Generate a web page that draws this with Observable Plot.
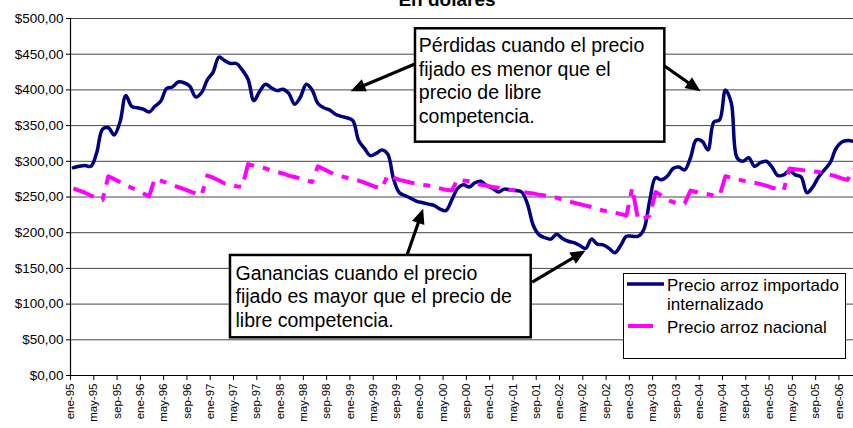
<!DOCTYPE html>
<html><head><meta charset="utf-8">
<script src="https://cdn.jsdelivr.net/npm/d3@7"></script>
<script src="https://cdn.jsdelivr.net/npm/@observablehq/plot@0.6"></script>
<style>
body{margin:0;background:#fff;font-family:Arial,"Liberation Sans",sans-serif;overflow:hidden}
#wrap{position:relative;width:853px;height:428px;overflow:hidden}
#chart{position:absolute;left:0;top:0}
#title{position:absolute;top:-10px;left:447px;transform:translateX(-50%);font-weight:bold;font-size:19px;line-height:19px;white-space:nowrap}
#legend{position:absolute;left:623px;top:273px;width:221px;height:84px;border:1px solid #000;background:#fff;font-size:17px;line-height:19px}
#legend .t{position:absolute;white-space:nowrap}
#legend svg{position:absolute}
</style></head>
<body>
<div id="wrap">
<div id="chart"></div>
<div id="title">En dólares</div>
<div id="legend">
  <svg style="left:2px;top:6px" width="40" height="8"><line x1="1" y1="4" x2="38" y2="4" stroke="#000080" stroke-width="3.5"/></svg>
  <div class="t" style="left:43px;top:2px">Precio arroz importado<br>internalizado</div>
  <svg style="left:3px;top:48px" width="30" height="8"><line x1="1" y1="4" x2="26" y2="4" stroke="#ff00ff" stroke-width="4"/></svg>
  <div class="t" style="left:43px;top:44px">Precio arroz nacional</div>
</div>
</div>
<script>
// Precio arroz importado internalizado (monthly, ene-95 .. mar-06)
const importado = [291,293,294,293,312,345,347,337,355,392,
 377,375,373,369,377,384,402,404,411,410,
 405,390,396,414,425,446,441,437,437,428,
 415,385,398,408,403,399,401,395,380,390,
 408,400,381,375,372,366,363,361,357,329,
 318,308,311,316,310,275,256,252,248,244,
 242,240,238,233,231,246,262,267,264,270,
 272,266,262,257,261,260,259,257,240,210,
 197,193,191,198,192,188,186,182,178,191,
 184,183,178,172,182,195,195,195,205,245,
 277,274,279,290,292,288,305,330,328,316,
 355,358,400,382,305,300,305,293,298,300,
 292,280,281,287,281,278,256,264,278,288,
 298,318,327,329,328];
// Precio arroz nacional
const nacional = [262,259,256,252,249,246,279,275,271,267,
 263,259,255,251,276,273,270,267,264,261,
 258,255,252,280,277,273,269,267,265,264,
 296,294,292,290,287,285,283,280,278,276,
 273,271,293,289,285,281,279,277,275,273,
 270,267,264,262,281,277,274,272,270,269,
 267,266,264,262,260,259,275,273,272,270,
 267,266,264,263,262,260,259,257,256,255,
 253,252,250,249,246,244,242,240,238,236,
 233,231,230,228,226,224,263,218,220,224,
 257,252,246,243,240,241,259,257,255,254,
 252,252,279,277,275,273,271,270,268,266,
 263,261,259,290,289,288,287,286,285,283,
 281,279,276,274,290];
const tickLabels = ["ene-95","may-95","sep-95","ene-96","may-96","sep-96","ene-97","may-97","sep-97",
 "ene-98","may-98","sep-98","ene-99","may-99","sep-99","ene-00","may-00","sep-00","ene-01","may-01","sep-01",
 "ene-02","may-02","sep-02","ene-03","may-03","sep-03","ene-04","may-04","sep-04","ene-05","may-05","sep-05","ene-06"];
const yTicks = [0,50,100,150,200,250,300,350,400,450,500];

// annotations (in data coordinates: month index, dollars)
const cajas = [
  {x1:58.76, x2:101.59, y1:326.8, y2:485.6},
  {x1:26.98, x2:78.64, y1:52.8, y2:168.1}
];
const textos = [
  {x:59.33, y:477, text:"Pérdidas cuando el precio\nfijado es menor que el\nprecio de libre\ncompetencia."},
  {x:27.84, y:158, text:"Ganancias cuando el precio\nfijado es mayor que el precio de\nlibre competencia."}
];
const flechas = [
  {x1:58.76, y1:436.6, x2:47.6, y2:398.2},
  {x1:101.41, y1:434.2, x2:107.72, y2:398.2},
  {x1:57.34, y1:169.5, x2:60.08, y2:233.5},
  {x1:78.81, y1:130.7, x2:87.96, y2:175.1}
];

const W=853, H=428, ML=70, MR=0, MT=18, MB=53;
const xDom=[-0.5,134.0], yDom=[0,500];
const sx=d3.scaleLinear(xDom,[ML,W-MR]), sy=d3.scaleLinear(yDom,[H-MB,MT]);

const serieA = importado.map((v,i)=>({m:i,v}));
const serieB = nacional.map((v,i)=>({m:i,v}));
const xTicks = tickLabels.map((_,i)=>i*4-0.5);
const fmtY = d => "$" + d.toFixed(2).replace(".", ",");

const heads = flechas.map(f=>{
  const px1=sx(f.x1), py1=sy(f.y1), px2=sx(f.x2), py2=sy(f.y2);
  const dx=px2-px1, dy=py2-py1, L=Math.hypot(dx,dy);
  const ux=dx/L, uy=dy/L;
  const ang = Math.atan2(ux,-uy)*180/Math.PI;
  return {x:f.x2, y:f.y2, angle:ang, sx1:f.x1, sy1:f.y1, sx2:sx.invert(px2-ux*10), sy2:sy.invert(py2-uy*10)};
});
const punta = {draw(ctx){ctx.moveTo(0,0);ctx.lineTo(-6.5,15);ctx.lineTo(6.5,15);ctx.closePath();}};

const chart = Plot.plot({
  width:W, height:H, marginLeft:ML, marginRight:MR, marginTop:MT, marginBottom:MB,
  style:{fontFamily:"Arial, 'Liberation Sans', sans-serif", background:"white", color:"black"},
  x:{type:"linear", domain:xDom},
  y:{domain:yDom},
  marks:[
    Plot.gridY(yTicks.slice(1), {stroke:"#000", strokeOpacity:0.72, strokeWidth:1}),
    Plot.axisY({ticks:yTicks, tickFormat:fmtY, tickSize:4, tickPadding:3, fontSize:13.5, label:null}),
    Plot.axisX({ticks:xTicks, tickFormat:d=>tickLabels[Math.round((d+0.5)/4)], tickRotate:-90, tickSize:5, tickPadding:3, fontSize:11.5, label:null}),
    Plot.ruleX([xDom[0]], {stroke:"#000", strokeWidth:1.2}),
    Plot.ruleY([0], {stroke:"#000", strokeWidth:1.2}),
    Plot.line(serieA, {x:"m", y:"v", stroke:"#000080", strokeWidth:3.5, curve:"catmull-rom", clip:true}),
    Plot.line(serieB, {x:"m", y:"v", stroke:"#ff00ff", strokeWidth:4, strokeDasharray:"22,9,7,9", strokeLinecap:"butt", clip:true}),
    Plot.rect(cajas, {x1:"x1", x2:"x2", y1:"y1", y2:"y2", fill:"white", stroke:"#000", strokeWidth:2.5}),
    Plot.text(textos, {x:"x", y:"y", text:"text", textAnchor:"start", lineAnchor:"top", fontSize:19.5, lineHeight:1.22, fill:"#000"}),
    Plot.link(heads, {x1:"sx1", y1:"sy1", x2:"sx2", y2:"sy2", stroke:"#000", strokeWidth:3.2}),
    Plot.dot(heads, {x:"x", y:"y", rotate:"angle", symbol:punta, fill:"#000", stroke:"none", r:5})
  ]
});
document.getElementById("chart").appendChild(chart);
</script>
</body></html>
